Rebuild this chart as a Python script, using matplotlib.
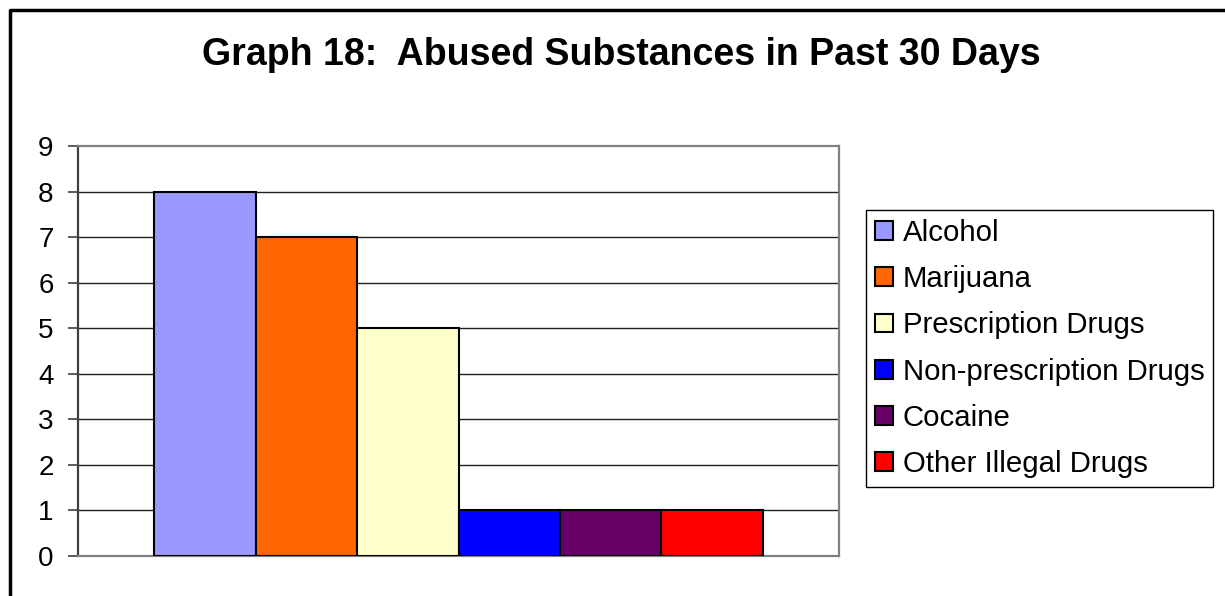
import numpy as np
import matplotlib
matplotlib.use("Agg")
import matplotlib.pyplot as plt
from matplotlib.lines import Line2D

plt.rcParams['font.family'] = ['Liberation Sans', 'DejaVu Sans']

substances = ["Alcohol", "Marijuana", "Prescription Drugs",
              "Non-prescription Drugs", "Cocaine", "Other Illegal Drugs"]
counts = [8, 7, 5, 1, 1, 1]
colors = ["#9999FF", "#FF6600", "#FFFFCC", "#0000FF", "#660066", "#FF0000"]
y_ticks = list(range(0, 10))

W, H = 1225, 596
fig = plt.figure(figsize=(W / 100, H / 100), dpi=100)

# plot area in pixels (left, top, right, bottom)
px_l, px_t, px_r, px_b = 78, 146, 839, 556
ax = fig.add_axes([px_l / W, 1 - px_b / H, (px_r - px_l) / W, (px_b - px_t) / H])

n = len(substances)
offsets = np.arange(n) - (n - 1) / 2
for off, val, col, lab in zip(offsets, counts, colors, substances):
    ax.bar(off, val, width=1.0, color=col, edgecolor="black", linewidth=1.5,
           label=lab, zorder=3)

ax.set_xlim(-n / 2 - 0.75, n / 2 + 0.75)
ax.set_ylim(0, 9)
ax.set_yticks(y_ticks)
ax.set_xticks([])
ax.tick_params(axis="y", labelsize=20, length=7.5, width=1.2, color="#404040", pad=10)

for y in y_ticks[1:-1]:
    ax.axhline(y, color="#202020", linewidth=1.0, zorder=1)

ax.spines["top"].set_color("#808080")
ax.spines["right"].set_color("#808080")
ax.spines["bottom"].set_color("#808080")
ax.spines["left"].set_color("#404040")
for sp in ax.spines.values():
    sp.set_linewidth(1.6)

fig.text(621 / W, 1 - 55 / H, "Graph 18:  Abused Substances in Past 30 Days",
         ha="center", va="center", fontsize=27, fontweight="bold")

leg = fig.legend(loc="upper left", bbox_to_anchor=(866 / W, 1 - 210 / H),
                 fontsize=21.2, frameon=True, fancybox=False, framealpha=1,
                 edgecolor="black", handlelength=0.6, handleheight=0.6,
                 handletextpad=0.35, labelspacing=0.62, borderpad=0.3,
                 borderaxespad=0)
leg.get_frame().set_linewidth(1.0)

# outer chart border (left and top only visible)
fig.add_artist(Line2D([10 / W, 10 / W, 1.0], [0.0, 1 - 10 / H, 1 - 10 / H],
                      transform=fig.transFigure, color="black", linewidth=2.5))

fig.savefig("out.png", dpi=100)
